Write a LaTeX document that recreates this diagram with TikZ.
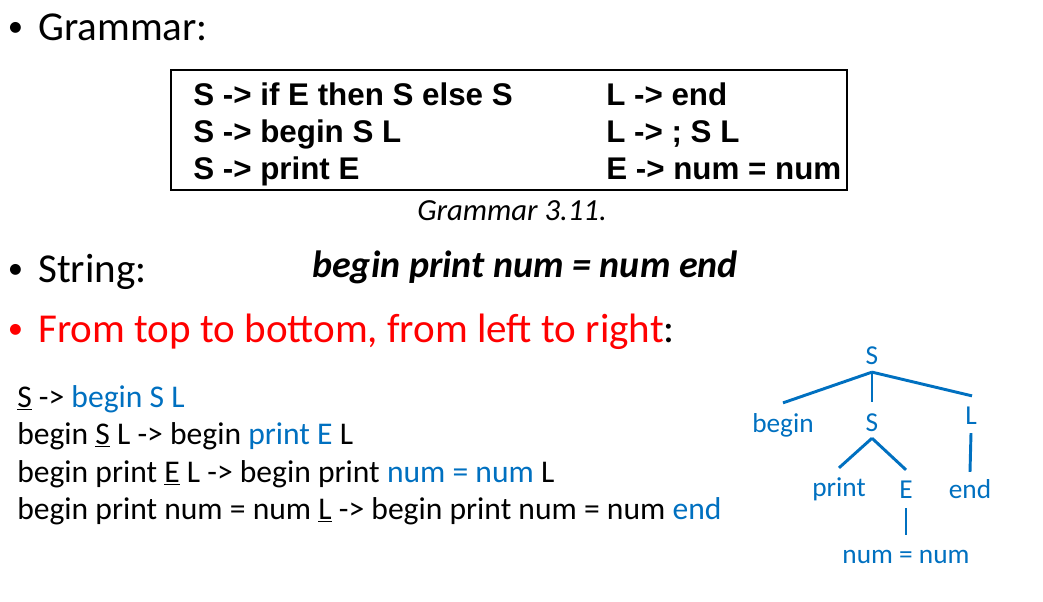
\documentclass[tikz,border=0pt]{standalone}
\usepackage{fontspec}
\setmainfont{Carlito}
\newfontfamily\arialf{Liberation Sans}
\definecolor{tblue}{HTML}{0070C0}
\definecolor{tred}{HTML}{FF0000}
\begin{document}
\begin{tikzpicture}[x=0.75pt,y=-0.75pt,
  head/.style={anchor=base west,inner sep=0,font=\fontsize{30.8pt}{36pt}\selectfont},
  bul/.style={anchor=base,inner sep=0,font=\fontsize{23pt}{28pt}\selectfont},
  gram/.style={anchor=base west,inner sep=0,font=\arialf\bfseries\fontsize{23.5pt}{28pt}\selectfont},
  deriv/.style={anchor=base west,inner sep=0,font=\fontsize{23.7pt}{28pt}\selectfont},
  tnode/.style={inner sep=0,text=tblue,font=\fontsize{20.5pt}{24pt}\selectfont,text height=13.2pt,text depth=0pt},
  tedge/.style={draw=tblue,line width=2.2pt}
]
\useasboundingbox (0,0) rectangle (1043,602);
% headings
\node[bul] (b1) at (15.5,37) {•};
\node[head] (h1) at (38,41) {Grammar:};
\node[bul] (b2) at (15.5,279) {•};
\node[head] (h2) at (38,283) {String:};
\node[bul,text=tred] (b3) at (15.5,339) {•};
\node[head] (h3) at (38,343) {\textcolor{tred}{From top to bottom, from left to right}:};
% grammar box
\node[draw,line width=1.5pt,inner sep=0,minimum width=507pt,minimum height=90pt] (box) at (509,130) {};
\node[gram] (r1) at (193,106) {S -> if E then S else S};
\node[gram] (r2) at (193,143) {S -> begin S L};
\node[gram] (r3) at (193,180) {S -> print E};
\node[gram] (r4) at (606,106) {L -> end};
\node[gram] (r5) at (606,143) {L -> ; S L};
\node[gram] (r6) at (606,180) {E -> num = num};
\node[anchor=base west,inner sep=0,font=\itshape\fontsize{23pt}{28pt}\selectfont] (cap) at (417,221) {Grammar 3.11.};
% string
\node[anchor=base west,inner sep=0,font=\bfseries\itshape\fontsize{28.5pt}{34pt}\selectfont] (str) at (312,278) {begin print num = num end};
% derivation
\node[deriv] (d1) at (17,407) {\underline{S} -> \textcolor{tblue}{begin S L}};
\node[deriv] (d2) at (17,444.5) {begin \underline{S} L -> begin \textcolor{tblue}{print E} L};
\node[deriv] (d3) at (17,482) {begin print \underline{E} L -> begin print \textcolor{tblue}{num = num} L};
\node[deriv] (d4) at (17,519) {begin print num = num \underline{L} -> begin print num = num \textcolor{tblue}{end}};
% tree
\node[tnode] (S0) at (872,356) {S};
\node[tnode] (tb) at (783,423.4) {begin};
\node[tnode] (S1) at (872,423) {S};
\node[tnode] (L) at (971,416) {L};
\node[tnode] (tp) at (839,488) {print};
\node[tnode] (E) at (906,490) {E};
\node[tnode] (te) at (970,490) {end};
\node[tnode] (nn) at (906,555) {num = num};
\draw[tedge] ([yshift=-5.3pt]S0.south) -- ([yshift=8.6pt]tb.north);
\draw[tedge] ([yshift=-5.3pt]S0.south) -- ([yshift=9.1pt]S1.north);
\draw[tedge] ([yshift=-5.3pt]S0.south) -- ([yshift=8.3pt,xshift=0.75pt]L.north);
\draw[tedge] ([yshift=-4.6pt]S1.south) -- ([yshift=8.3pt]tp.north);
\draw[tedge] ([yshift=-4.6pt]S1.south) -- ([yshift=8.3pt]E.north);
\draw[tedge] ([yshift=-6.1pt]L.south) -- ([yshift=6.8pt]te.north);
\draw[tedge] ([yshift=-6.8pt]E.south) -- ([yshift=8.3pt]nn.north);
\end{tikzpicture}
\end{document}
